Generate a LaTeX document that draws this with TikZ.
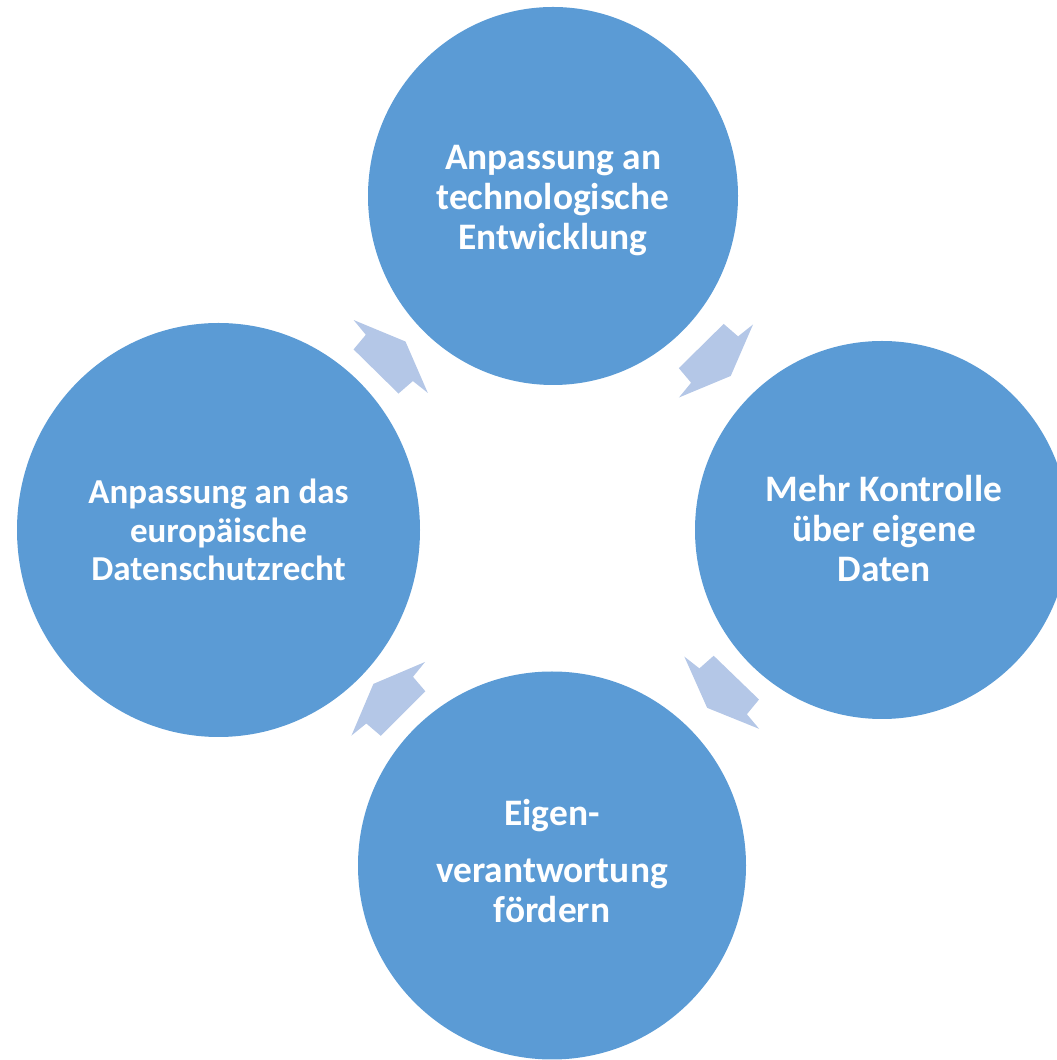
\documentclass[tikz,border=0pt]{standalone}
\usepackage{fontspec}
\setmainfont{Carlito}
\usetikzlibrary{shapes.geometric,calc}
\definecolor{circblue}{HTML}{5B9BD5}
\definecolor{arrowblue}{HTML}{B4C7E7}
\tikzset{
  phase/.style={ellipse, fill=circblue, inner sep=0pt},
  phasetext/.style={inner sep=0pt, text=white, align=center,
    font=\bfseries\fontsize{37.4}{40}\selectfont},
  pics/cyclearrow/.style={code={
    \fill[arrowblue] (-21pt,-31.5pt) -- (-2pt,-33pt) -- (0pt,-52pt) -- (21pt,0pt)
      -- (0pt,52pt) -- (-2pt,33pt) -- (-21pt,31.5pt) -- cycle;}}
}
\begin{document}
\begin{tikzpicture}[x=1pt,y=1pt]
\useasboundingbox (0,0) rectangle (1057,1060);
\clip (0,0) rectangle (1057,1060);
% the four phases of the cycle
\node[phase, minimum width=370pt, minimum height=378pt] (top) at (553,864) {};
\node[phase, minimum width=374pt, minimum height=378pt] (right) at (882,530) {};
\node[phase, minimum width=388pt, minimum height=388pt] (bottom) at (552,194.5) {};
\node[phase, minimum width=403pt, minimum height=414pt] (left) at (218.5,530) {};
% their captions
\node[phasetext] (top-text) at ($(top)+(0,-5)$)
  {Anpassung an\\technologische\\Entwicklung};
\node[phasetext] (right-text) at ($(right)+(2,1)$)
  {Mehr Kontrolle\\über eigene\\Daten};
\node[phasetext] (bottom-text) at ($(bottom)+(0,4)$)
  {Eigen-\\[17pt]verantwortung\\fördern};
\node[phasetext, font=\bfseries\fontsize{35}{38.5}\selectfont] (left-text) at ($(left)+(0,0)$)
  {Anpassung an das\\europäische\\Datenschutzrecht};
% block arrows running clockwise between the phases
\pic[rotate=45.5] at ($(left)!0.5!(top)+(5,6.5)$) {cyclearrow};
\pic[rotate=-45.4] at ($(top)!0.5!(right)+(-1.5,2)$) {cyclearrow};
\pic[rotate=-134] at ($(right)!0.5!(bottom)+(4.75,5)$) {cyclearrow};
\pic[rotate=135] at ($(bottom)!0.5!(left)+(3,-1)$) {cyclearrow};
\end{tikzpicture}
\end{document}
